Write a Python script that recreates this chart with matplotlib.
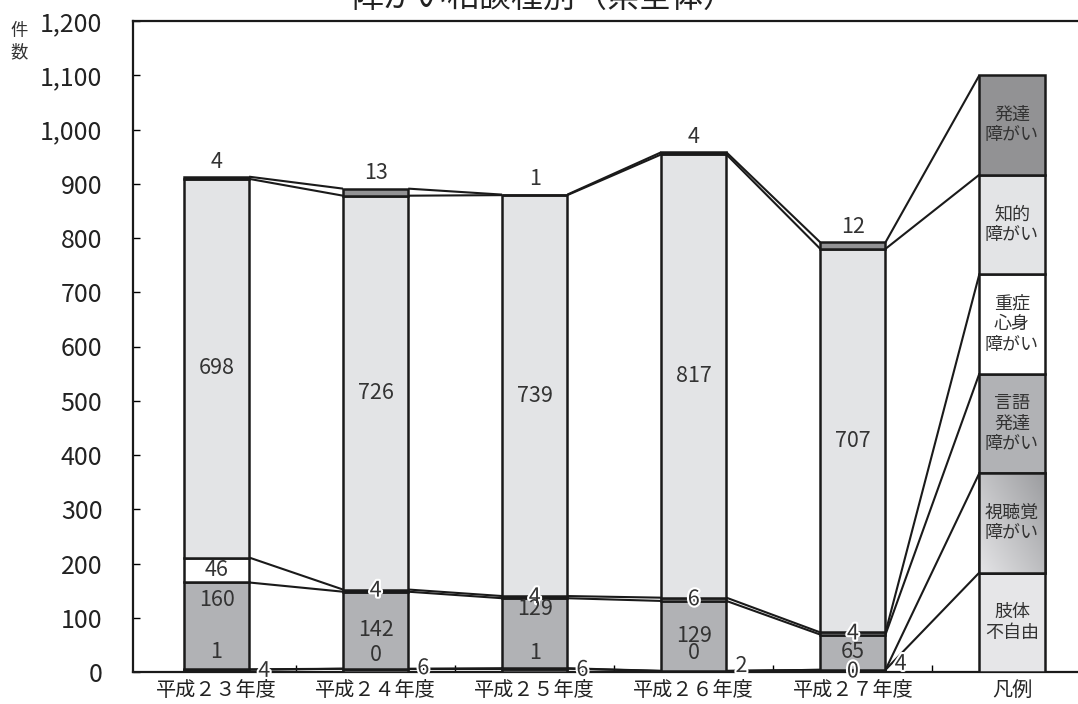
import matplotlib
matplotlib.use("Agg")
import matplotlib.pyplot as plt
import matplotlib.patheffects as pe
import numpy as np

plt.rcParams['font.family'] = ['Noto Sans CJK JP', 'DejaVu Sans']

# ---------------- data ----------------
years = ['平成２３年度', '平成２４年度', '平成２５年度', '平成２６年度', '平成２７年度']
legend_label = '凡例'
series_names = ['肢体\n不自由', '視聴覚\n障がい', '言語\n発達\n障がい', '重症\n心身\n障がい', '知的\n障がい', '発達\n障がい']
shitai   = [4, 6, 6, 2, 4]
shichou  = [1, 0, 1, 0, 0]
gengo    = [160, 142, 129, 129, 65]
juushou  = [46, 4, 4, 6, 4]
chiteki  = [698, 726, 739, 817, 707]
hattatsu = [4, 13, 1, 4, 12]
yticks = list(range(0, 1201, 100))

# ---------------- styles ----------------
colors = ['#e6e6e8', '#c4c5c8', '#b1b2b5', '#ffffff', '#e3e4e6', '#929294']
label_fs = 15.5
bar_w = 0.41

fig = plt.figure(figsize=(10.78, 7.04), dpi=100)
ax = fig.add_axes([133/1078, 1 - 672/704, 1 - 133/1078, (672 - 21)/704])

series = [shitai, shichou, gengo, juushou, chiteki, hattatsu]
x = np.arange(len(years))
bottom = np.zeros(len(years))
cum_tops = []
for vals, col in zip(series, colors):
    v = np.array(vals, dtype=float)
    ax.bar(x, v, bar_w, bottom=bottom, color=col, edgecolor='#1a1a1a', linewidth=1.8, zorder=3)
    bottom = bottom + v
    cum_tops.append(bottom.copy())

# legend column
n = len(series_names)
seg = 1100 / n
lx = len(years)
for k, (name, col) in enumerate(zip(series_names, colors)):
    r = ax.bar(lx, seg, bar_w, bottom=k * seg, color=col, edgecolor='#1a1a1a', linewidth=1.8, zorder=3)
    if k == 1:
        gx, gy = np.meshgrid(np.linspace(0, 1, 50), np.linspace(0, 1, 50))
        g = 0.55 * gx + 0.45 * (1 - gy)
        im = ax.imshow(g, cmap=plt.cm.colors.LinearSegmentedColormap.from_list('g', ['#e4e4e6', '#9c9da0']),
                       extent=(lx - bar_w / 2, lx + bar_w / 2, k * seg, (k + 1) * seg),
                       origin='upper', aspect='auto', zorder=3.5)
        im.set_clip_path(r.patches[0])
        ax.bar(lx, seg, bar_w, bottom=k * seg, color='none', edgecolor='#1a1a1a', linewidth=1.8, zorder=4)
    ax.text(lx, (k + 0.5) * seg, name, ha='center', va='center', fontsize=13,
            color='#333333', linespacing=1.2, zorder=5)

# series lines
legend_tops = [(k + 1) * seg for k in range(n)]
for k in range(n):
    tops = cum_tops[k]
    for i in range(len(years) - 1):
        ax.plot([x[i] + bar_w / 2, x[i + 1] - bar_w / 2], [tops[i], tops[i + 1]],
                color='#1a1a1a', lw=1.5, zorder=2, solid_capstyle='butt')
    ax.plot([x[-1] + bar_w / 2, lx - bar_w / 2], [tops[-1], legend_tops[k]],
            color='#1a1a1a', lw=1.5, zorder=2, solid_capstyle='butt')

# data labels
halo = [pe.withStroke(linewidth=3, foreground='white')]
def lab(xp, yp, s, h=False):
    t = ax.text(xp, yp, str(s), ha='center', va='center', fontsize=label_fs, color='#333333', zorder=6)
    if h:
        t.set_path_effects(halo)

bases = [np.zeros(len(years))] + cum_tops[:-1]
gengo_label_shift = [48, 0, 45, 0, 0]
shichou_label_y = [37, 31, 35, 35, 1]
shitai_label_y = [2, 7, 4, 11, 15]
for i in range(len(years)):
    lab(x[i], cum_tops[5][i] + 28, hattatsu[i])
    lab(x[i], (bases[4][i] + cum_tops[4][i]) / 2, chiteki[i])
    lab(x[i], (bases[3][i] + cum_tops[3][i]) / 2, juushou[i], h=juushou[i] < 20)
    lab(x[i], (bases[2][i] + cum_tops[2][i]) / 2 + gengo_label_shift[i], gengo[i])
    lab(x[i], shichou_label_y[i], shichou[i], h=(i == 4))
    lab(x[i] + 0.3, shitai_label_y[i], shitai[i], h=True)

# axes
ax.set_xlim(-0.525, lx + (1078 - 1012) / 159)
ax.set_ylim(0, 1200)
ax.set_yticks(yticks)
ax.set_yticklabels([f'{v:,}' for v in yticks], fontsize=18, color='#222222')
ax.set_xticks(list(x) + [lx])
ax.set_xticklabels(years + [legend_label], fontsize=14.5, color='#222222')
ax.set_xticks(np.arange(0.5, lx, 1.0), minor=True)
ax.tick_params(axis='y', direction='in', length=5, width=1, pad=22)
ax.tick_params(axis='x', which='major', length=0, pad=6)
ax.tick_params(axis='x', which='minor', direction='in', length=5, width=1)
for s in ['left', 'top', 'bottom']:
    ax.spines[s].set_linewidth(1.6)
    ax.spines[s].set_color('#1a1a1a')
ax.spines['right'].set_visible(False)

fig.text(19/1078, 1 - 42/704, '件\n数', ha='center', va='center', fontsize=12.5, color='#333333', linespacing=1.25)
fig.text(543/1078, 1 + 2/704, '障がい相談種別（県全体）', ha='center', va='center', fontsize=23, color='#222222')

fig.savefig('out.png', dpi=100)
